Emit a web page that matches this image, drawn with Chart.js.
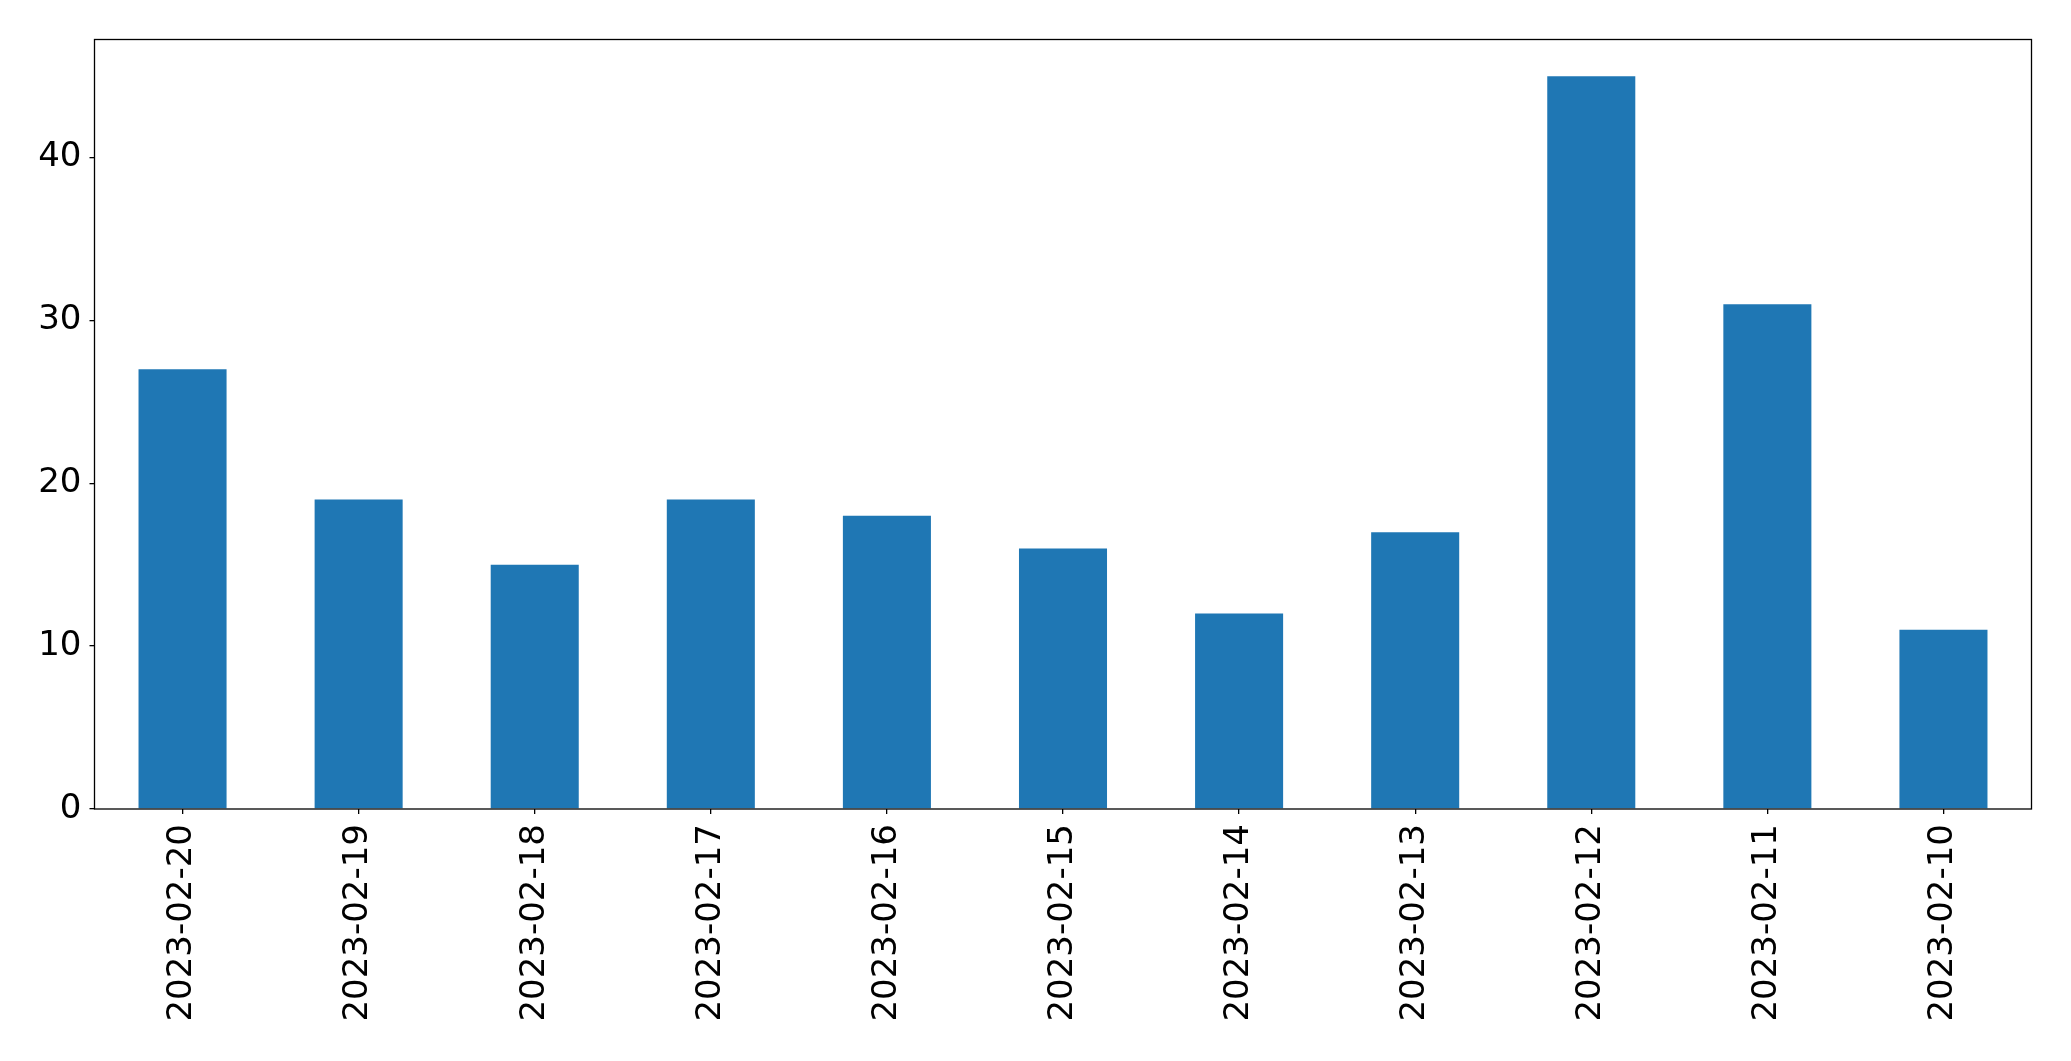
<!DOCTYPE html>
<html>
<head>
<meta charset="utf-8">
<script src="https://cdn.jsdelivr.net/npm/chart.js@4/dist/chart.umd.min.js"></script>
<style>
  html, body { margin: 0; padding: 0; background: #fff; }
  #wrap { width: 2071px; height: 1061px; }
</style>
</head>
<body>
<div id="wrap"><canvas id="barChart" width="2071" height="1061"></canvas></div>
<script>
const dates = ["2023-02-20", "2023-02-19", "2023-02-18", "2023-02-17", "2023-02-16",
  "2023-02-15", "2023-02-14", "2023-02-13", "2023-02-12", "2023-02-11", "2023-02-10"];
const counts = [27, 19, 15, 19, 18, 16, 12, 17, 45, 31, 11];
const yTicks = [0, 10, 20, 30, 40];

// cadre complet autour de la zone du graphique
const cadre = {
  id: 'cadre',
  afterDraw(chart) {
    const a = chart.chartArea;
    const ctx = chart.ctx;
    ctx.save();
    ctx.strokeStyle = '#000';
    ctx.lineWidth = 1.3;
    ctx.strokeRect(a.left, a.top, a.right - a.left, a.bottom - a.top);
    ctx.restore();
  }
};

const ctx = document.getElementById('barChart').getContext('2d');

new Chart(ctx, {
  type: 'bar',
  data: {
    labels: dates,
    datasets: [{
      data: counts,
      backgroundColor: '#1f77b4',
      borderWidth: 0,
      categoryPercentage: 1,
      barPercentage: 0.5
    }]
  },
  options: {
    responsive: false,
    animation: false,
    layout: { padding: { left: 0, right: 39.5, top: 39.5, bottom: 0 } },
    plugins: {
      legend: { display: false },
      tooltip: { enabled: false }
    },
    scales: {
      x: {
        offset: true,
        grid: { offset: false, drawOnChartArea: false, drawTicks: true, tickLength: 5, color: '#000', lineWidth: 1.3 },
        border: { display: false },
        ticks: {
          color: '#000',
          font: { family: 'DejaVu Sans', size: 34 },
          minRotation: 90,
          maxRotation: 90,
          autoSkip: false,
          padding: 10
        },
        afterFit(scale) { scale.height = 252; }
      },
      y: {
        min: 0,
        max: 47.25,
        grid: { drawOnChartArea: false, drawTicks: true, tickLength: 5, color: '#000', lineWidth: 1.3 },
        border: { display: false },
        ticks: {
          color: '#000',
          font: { family: 'DejaVu Sans', size: 34 },
          padding: 8
        },
        afterBuildTicks(scale) { scale.ticks = yTicks.map(v => ({ value: v })); },
        afterFit(scale) { scale.width = 94.5; }
      }
    }
  },
  plugins: [cadre]
});
</script>
</body>
</html>
